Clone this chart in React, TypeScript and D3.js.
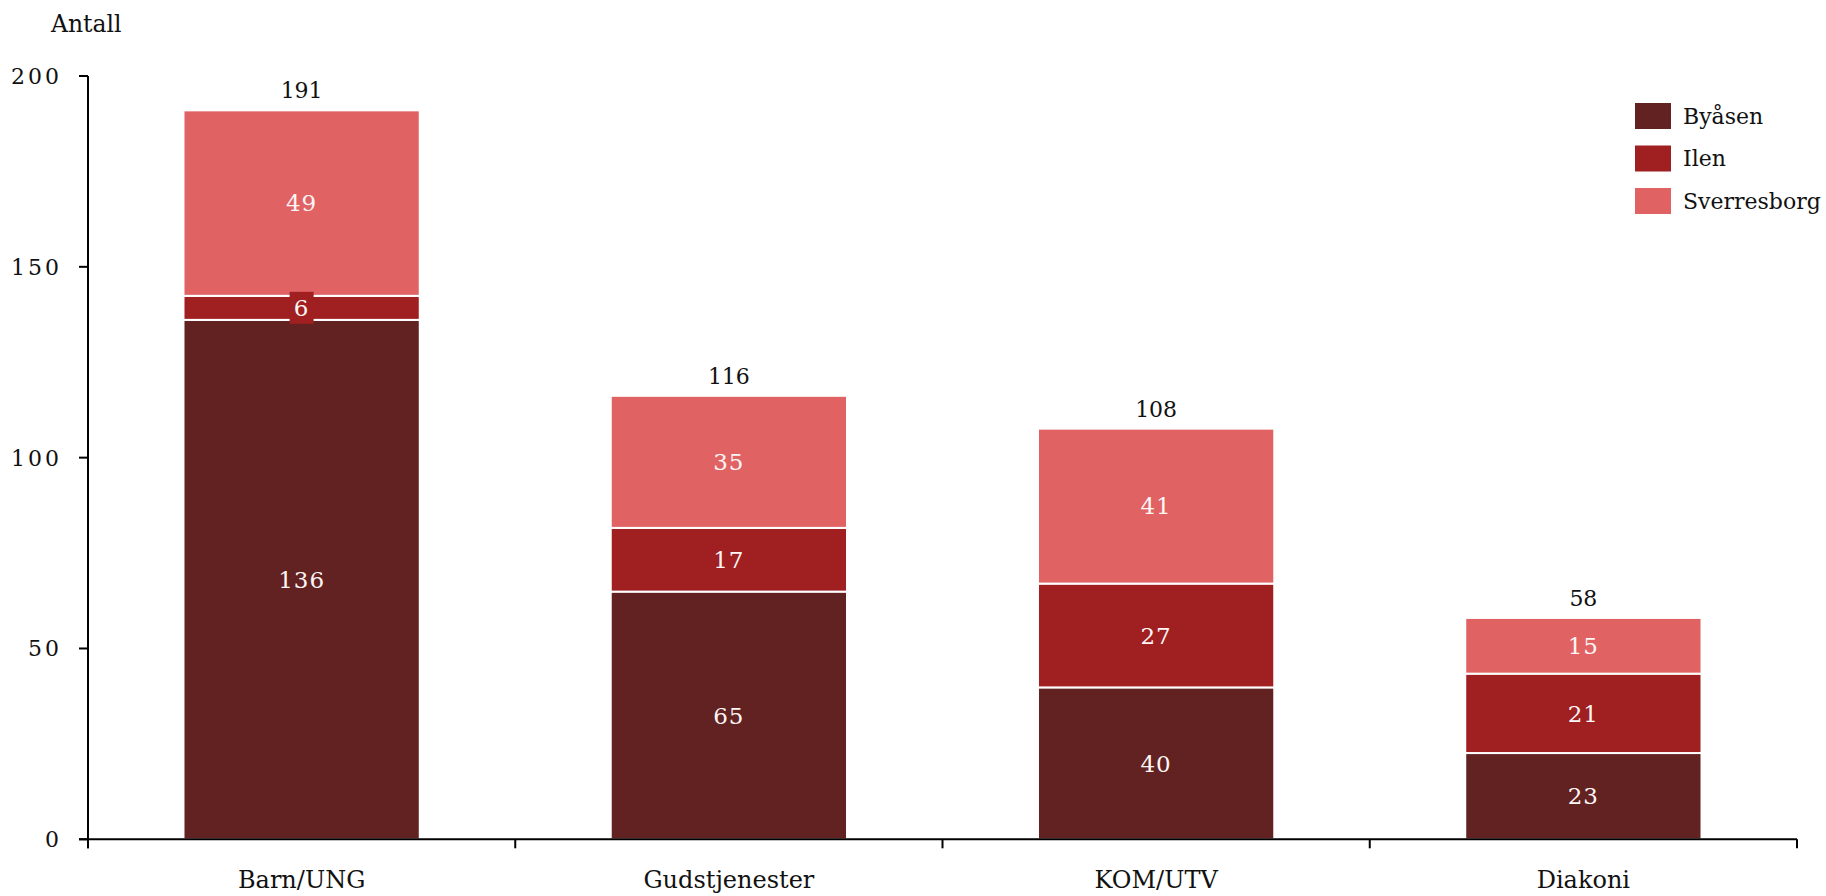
import React from "react";
import * as d3 from "d3";

const categories = ["Barn/UNG", "Gudstjenester", "KOM/UTV", "Diakoni"];
const seriesNames = ["Byåsen", "Ilen", "Sverresborg"];
const byasen = [136.1, 64.9, 39.8, 22.6];
const ilen = [6.3, 16.7, 27.2, 20.8];
const sverresborg = [48.6, 34.6, 40.6, 14.6];
const seriesColors = ["#612221", "#a01f21", "#e06263"];
const yTicks = [0, 50, 100, 150, 200];
const yTitle = "Antall";

const W = 1826;
const H = 896;
const FONT = "'DejaVu Serif', Georgia, serif";

export default function App() {
  const rows = categories.map((c, i) => ({
    cat: c,
    [seriesNames[0]]: byasen[i],
    [seriesNames[1]]: ilen[i],
    [seriesNames[2]]: sverresborg[i],
  }));
  const stacked = d3.stack<any>().keys(seriesNames)(rows);
  const totals = categories.map((_, i) => byasen[i] + ilen[i] + sverresborg[i]);

  const x = d3
    .scaleBand<string>()
    .domain(categories)
    .range([88, 1797])
    .paddingInner(0.447)
    .paddingOuter(0.2235);
  const y = d3.scaleLinear().domain([0, 200]).range([839.3, 76]);
  const fmt = d3.format(".0f");
  const color = d3.scaleOrdinal<string, string>().domain(seriesNames).range(seriesColors);

  const x0 = x.range()[0];
  const x1 = x.range()[1];
  const step = x.step();
  const boundaries = d3.range(categories.length + 1).map((k) => x0 + k * step);

  return (
    <svg
      width={W}
      height={H}
      style={{ position: "absolute", left: 0, top: 0, display: "block" }}
      fontFamily={FONT}
    >
      <rect x={0} y={0} width={W} height={H} fill="#fff" />
      <text x={51} y={32} fontSize={23.5} fill="#111">
        {yTitle}
      </text>

      {/* bars */}
      {stacked.map((layer) => (
        <g key={layer.key} fill={color(layer.key)}>
          {layer.map((d, i) => (
            <rect
              key={i}
              x={x(categories[i])}
              y={y(d[1])}
              width={x.bandwidth()}
              height={y(d[0]) - y(d[1])}
              stroke="#fff"
              strokeWidth={2}
            />
          ))}
        </g>
      ))}

      {/* segment labels */}
      {stacked.map((layer) => (
        <g key={"l" + layer.key}>
          {layer.map((d, i) => {
            const cx = (x(categories[i]) as number) + x.bandwidth() / 2;
            const cy = (y(d[0]) + y(d[1])) / 2;
            const h = y(d[0]) - y(d[1]);
            const label = fmt(d[1] - d[0]);
            return (
              <g key={i}>
                {h < 30 ? (
                  <rect x={cx - 12} y={cy - 16} width={24} height={32} fill={color(layer.key)} />
                ) : null}
                <text
                  x={cx}
                  y={cy}
                  dy="0.36em"
                  textAnchor="middle"
                  fontSize={23}
                  letterSpacing={1}
                  fill="#fdf6f6"
                >
                  {label}
                </text>
              </g>
            );
          })}
        </g>
      ))}

      {/* totals */}
      {totals.map((t, i) => (
        <text
          key={i}
          x={(x(categories[i]) as number) + x.bandwidth() / 2}
          y={y(t) - 12}
          textAnchor="middle"
          fontSize={22}
          fill="#111"
        >
          {fmt(t)}
        </text>
      ))}

      {/* y axis */}
      <line x1={x0} x2={x0} y1={y(200)} y2={y(0) + 9} stroke="#000" strokeWidth={2} />
      {yTicks.map((t) => (
        <g key={t}>
          <line x1={x0 - 9} x2={x0} y1={y(t)} y2={y(t)} stroke="#000" strokeWidth={2} />
          <text
            x={62}
            y={y(t)}
            dy="0.36em"
            textAnchor="end"
            fontSize={22}
            letterSpacing={3}
            fill="#111"
          >
            {t}
          </text>
        </g>
      ))}

      {/* x axis */}
      <line x1={x0 - 9} x2={x1} y1={y(0)} y2={y(0)} stroke="#000" strokeWidth={2} />
      {boundaries.map((b, k) => (
        <line key={k} x1={b} x2={b} y1={y(0)} y2={y(0) + 9} stroke="#000" strokeWidth={2} />
      ))}
      {categories.map((c) => (
        <text
          key={c}
          x={(x(c) as number) + x.bandwidth() / 2}
          y={888}
          textAnchor="middle"
          fontSize={24}
          fill="#111"
        >
          {c}
        </text>
      ))}

      {/* legend */}
      {seriesNames.map((s, k) => (
        <g key={s} transform={`translate(1635, ${103 + k * 42.5})`}>
          <rect width={36} height={26} fill={color(s)} />
          <text x={48} y={13} dy="0.36em" fontSize={22} fill="#111">
            {s}
          </text>
        </g>
      ))}
    </svg>
  );
}
